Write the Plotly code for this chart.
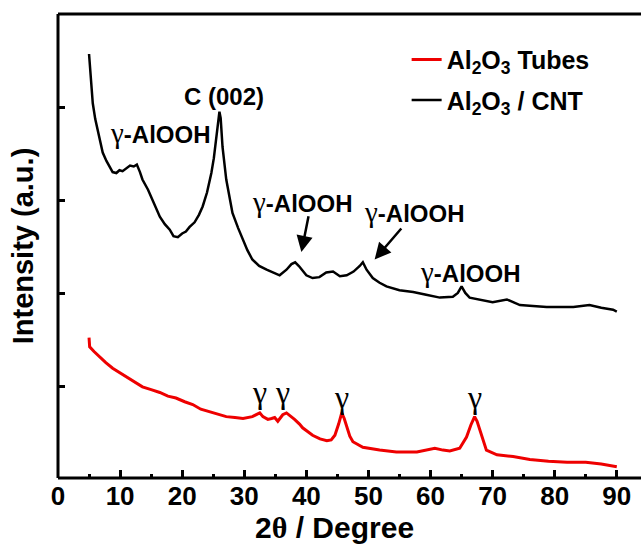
import plotly.graph_objects as go

# ---- data (2theta in degrees, intensity in arbitrary units) ----
cnt_2theta = [5.0, 5.3, 5.6, 6.0, 6.7, 7.2, 7.8, 8.3, 8.8, 9.4, 9.9, 10.4, 11.0, 11.6, 12.2, 12.7,
              13.2, 13.6, 14.5, 15.5, 16.4, 17.2, 18.0, 18.6, 19.3, 20.0, 20.6, 21.2, 22.0, 22.7,
              23.3, 24.0, 24.7, 25.1, 25.5, 25.8, 26.0, 26.2, 26.5, 27.1, 27.6, 28.1, 29.0, 29.8,
              30.5, 31.3, 32.4, 33.6, 34.6, 35.7, 36.8, 37.6, 38.2, 38.8, 40.0, 41.0, 42.1, 43.2,
              44.3, 45.4, 46.5, 47.6, 48.6, 49.1, 49.7, 50.7, 51.8, 52.9, 55.0, 57.2, 59.3, 61.5,
              63.6, 64.4, 65.0, 65.6, 66.3, 68.0, 70.0, 72.3, 74.4, 76.5, 78.7, 81.0, 83.0, 85.6,
              87.5, 89.4, 90.0]
cnt_intensity = [4.58, 4.35, 4.05, 3.88, 3.66, 3.52, 3.43, 3.37, 3.31, 3.30, 3.33, 3.32, 3.35, 3.38,
                 3.37, 3.39, 3.31, 3.23, 3.12, 2.96, 2.83, 2.75, 2.69, 2.62, 2.61, 2.65, 2.67, 2.72,
                 2.77, 2.85, 2.94, 3.09, 3.30, 3.46, 3.66, 3.87, 3.96, 3.89, 3.58, 3.23, 3.03, 2.87,
                 2.71, 2.58, 2.47, 2.37, 2.30, 2.26, 2.23, 2.20, 2.26, 2.32, 2.34, 2.30, 2.20, 2.17,
                 2.18, 2.23, 2.24, 2.19, 2.20, 2.24, 2.30, 2.34, 2.26, 2.17, 2.12, 2.08, 2.04, 2.02,
                 1.99, 1.96, 1.97, 2.01, 2.08, 2.01, 1.96, 1.94, 1.91, 1.94, 1.88, 1.87, 1.86, 1.86,
                 1.86, 1.88, 1.85, 1.83, 1.81]

tube_2theta = [5.0, 5.1, 5.8, 6.7, 7.7, 8.8, 10.0, 11.0, 12.3, 13.6, 15.0, 16.4, 17.7, 19.0, 20.4,
               21.7, 23.0, 24.4, 25.8, 27.1, 28.5, 29.8, 31.3, 32.0, 32.5, 33.0, 33.8, 34.4, 34.9,
               35.4, 36.2, 36.8, 37.4, 38.1, 38.9, 39.4, 40.2, 41.0, 42.2, 43.3, 44.0, 44.6, 45.2,
               45.7, 46.1, 46.5, 47.0, 47.5, 48.3, 49.1, 51.8, 54.5, 57.8, 59.5, 60.7, 62.0, 63.1,
               64.7, 65.8, 66.5, 67.1, 67.5, 67.9, 68.5, 69.0, 70.7, 73.3, 76.0, 79.0, 82.0, 85.0,
               87.5, 90.0]
tube_intensity = [1.53, 1.43, 1.38, 1.32, 1.26, 1.20, 1.15, 1.11, 1.05, 1.00, 0.97, 0.94, 0.90, 0.88,
                  0.84, 0.81, 0.76, 0.73, 0.70, 0.68, 0.67, 0.66, 0.68, 0.70, 0.72, 0.68, 0.65, 0.66,
                  0.67, 0.63, 0.70, 0.72, 0.69, 0.65, 0.60, 0.56, 0.52, 0.48, 0.44, 0.42, 0.43, 0.48,
                  0.60, 0.72, 0.66, 0.57, 0.47, 0.41, 0.38, 0.35, 0.32, 0.30, 0.30, 0.32, 0.34, 0.32,
                  0.31, 0.34, 0.46, 0.59, 0.68, 0.63, 0.54, 0.41, 0.32, 0.27, 0.25, 0.22, 0.20, 0.19,
                  0.19, 0.17, 0.14]

series_names = ["Al<sub>2</sub>O<sub>3</sub> Tubes", "Al<sub>2</sub>O<sub>3</sub> / CNT"]
x_tick_vals = [0, 10, 20, 30, 40, 50, 60, 70, 80, 90]

# peak labels for the CNT curve: (2theta, intensity, text)
cnt_labels_x = [16.5, 26.7, 39.4, 57.4, 66.5]
cnt_labels_y = [3.73, 4.12, 2.99, 2.88, 2.24]
# arrows: head (x, y) and tail (x, y)
arrow_head_x = [39.2, 51.0]
arrow_head_y = [2.45, 2.37]
arrow_tail_x = [40.4, 55.5]
arrow_tail_y = [2.85, 2.72]
# gamma labels on the tube curve
tube_labels_x = [32.5, 36.2, 45.7, 67.1]
tube_labels_y = [0.95, 0.95, 0.89, 0.89]

SANS = "Liberation Sans, Arial, sans-serif"
SERIF = "Liberation Serif"
G = "<span style='font-family:Liberation Serif;font-weight:normal;font-size:29px'>γ</span>"

fig = go.Figure()
fig.add_trace(go.Scatter(x=tube_2theta, y=tube_intensity, mode="lines", name=series_names[0],
                         legendgroup="a", line=dict(color="#ee0000", width=3)))
fig.add_trace(go.Scatter(x=cnt_2theta, y=cnt_intensity, mode="lines", name=series_names[1],
                         legendgroup="b", line=dict(color="black", width=2.5)))

label_texts = [G + "-AlOOH", "C (002)", G + "-AlOOH", G + "-AlOOH", G + "-AlOOH"]
for xv, yv, t in zip(cnt_labels_x, cnt_labels_y, label_texts):
    fig.add_annotation(x=xv, y=yv, text=t, showarrow=False,
                       font=dict(family=SANS, size=24, color="black", weight="bold"))

for hx, hy, tx, ty in zip(arrow_head_x, arrow_head_y, arrow_tail_x, arrow_tail_y):
    fig.add_annotation(x=hx, y=hy, ax=tx, ay=ty, axref="x", ayref="y", text="",
                       showarrow=True, arrowhead=2, arrowsize=1.3, arrowwidth=2.5,
                       arrowcolor="black")

for xv, yv in zip(tube_labels_x, tube_labels_y):
    fig.add_annotation(x=xv, y=yv, text="γ", showarrow=False,
                       font=dict(family=SERIF, size=32, color="black"))

# x-axis title as a paper annotation (centred under the visible part of the axis)
fig.add_annotation(x=0.475, y=-0.106, xref="paper", yref="paper", yanchor="middle",
                   text="2<span style='font-family:Liberation Serif'>θ</span> / Degree",
                   showarrow=False,
                   font=dict(family=SANS, size=30, color="black", weight="bold"))

# frame: left, bottom and top edges of the plotting area
frame = [(0, 0, 0, 1), (0, 0, 1, 0), (0, 1, 1, 1)]
for fx0, fy0, fx1, fy1 in frame:
    fig.add_shape(type="line", xref="paper", yref="paper", x0=fx0, y0=fy0, x1=fx1, y1=fy1,
                  line=dict(color="black", width=3), layer="above")

fig.update_layout(
    template="none",
    width=641, height=547,
    margin=dict(l=58, r=0, t=14, b=69, pad=0),
    paper_bgcolor="white", plot_bgcolor="white",
    font=dict(family=SANS, color="black"),
    showlegend=True,
    legend=dict(x=0.598, y=0.951, xanchor="left", yanchor="top",
                bgcolor="rgba(0,0,0,0)", borderwidth=0,
                font=dict(family=SANS, size=25, color="black", weight="bold"),
                traceorder="grouped", tracegroupgap=5, itemwidth=30),
    xaxis=dict(range=[0, 93.9], tickvals=x_tick_vals, ticks="inside", ticklen=8, tickwidth=2.5,
               tickcolor="black", showline=False, showgrid=False, zeroline=False,
               automargin=False,
               minor=dict(dtick=5, ticks="inside", ticklen=4, tickwidth=2.5, tickcolor="black",
                          showgrid=False),
               tickfont=dict(family=SANS, size=26, color="black", weight="bold")),
    yaxis=dict(range=[0.02, 5.01], tickvals=[1, 2, 3, 4], showticklabels=False, ticks="inside",
               ticklen=7, tickwidth=2.5, tickcolor="black", showline=False, showgrid=False,
               zeroline=False, automargin=False,
               title=dict(text="Intensity (a.u.)",
                          font=dict(family=SANS, size=29, color="black", weight="bold"),
                          standoff=14)),
)

fig.write_html("out.html")
